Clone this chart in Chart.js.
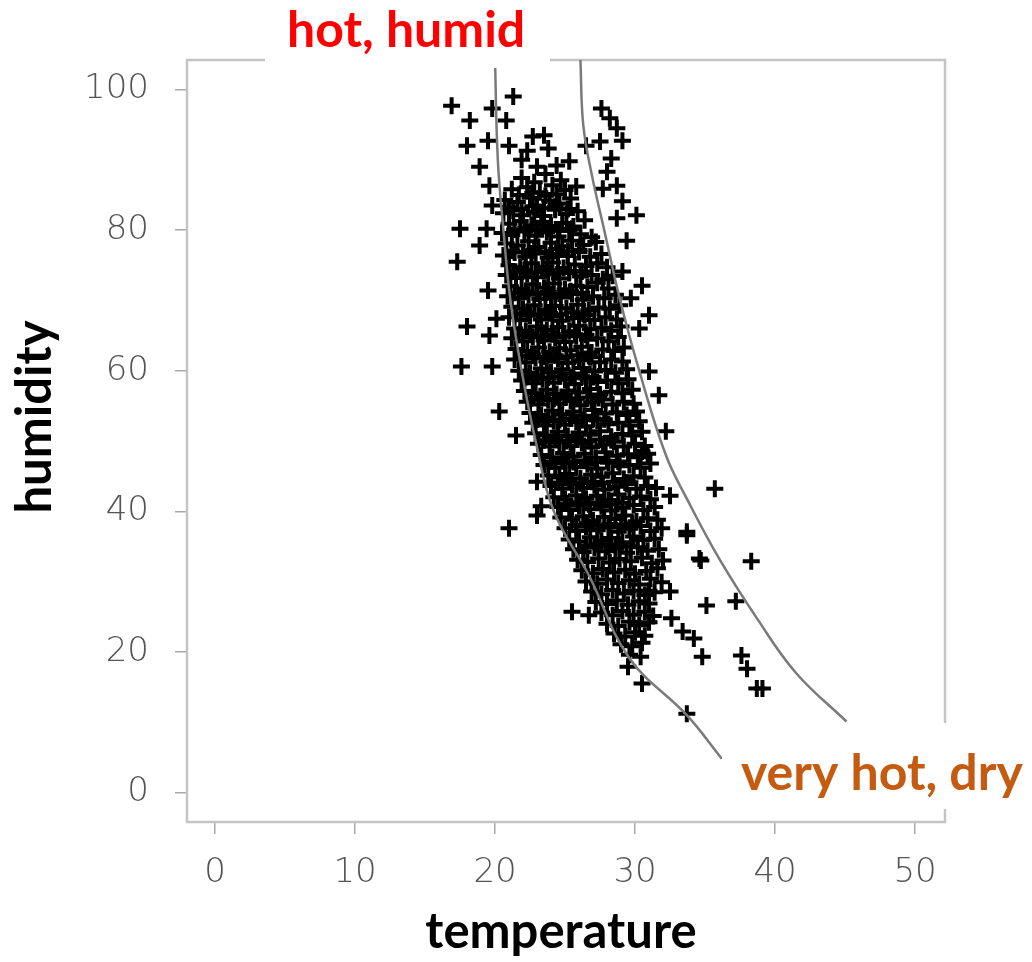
<!DOCTYPE html>
<html>
<head>
<meta charset="utf-8">
<script src="https://cdn.jsdelivr.net/npm/chart.js@4.4.1/dist/chart.umd.min.js"></script>
<style>
  body { margin: 0; background: #fff; }
  #wrap { width: 1032px; height: 962px; }
</style>
</head>
<body>
<div id="wrap"><canvas id="heatChart" width="1032" height="962"></canvas></div>
<script>
// axis ticks
var xTicks = [0, 10, 20, 30, 40, 50];
var yTicks = [0, 20, 40, 60, 80, 100];

// main cloud of readings [temperature, humidity]
var cloud = [
  [21.9,87.4],[22.8,86.8],[23.6,88.0],[24.7,87.1],
  [21.2,85.8],[22.3,86.1],[23.2,85.4],[24.1,86.4],[25.0,85.7],[25.8,86.2],
  [20.7,84.3],[21.6,84.0],[22.5,84.6],[23.0,83.5],[23.9,84.2],[24.6,83.8],[25.4,84.5],
  [20.6,82.4],[21.3,82.8],[22.0,82.1],[22.8,82.6],[23.5,82.0],[24.3,82.9],[25.1,82.3],[25.9,82.7],
  [21.0,80.9],[21.8,81.3],[22.6,80.7],[23.3,81.2],[24.0,80.6],[24.8,81.0],[25.6,80.5],[26.4,81.4],
  [20.5,79.6],[21.2,79.3],[22.1,79.8],[22.9,79.2],[23.7,79.7],[24.5,79.1],[25.3,79.9],[26.1,79.4],[26.9,79.0],
  [20.8,78.1],[21.6,77.8],[22.4,78.4],[23.1,77.6],[24.0,78.2],[24.8,77.7],[25.5,78.5],[26.3,77.9],[27.2,78.3],
  [20.6,76.4],[21.4,76.8],[22.2,76.2],[22.9,76.7],[23.8,76.1],[24.5,76.6],[25.2,76.3],[26.0,76.9],[26.8,76.2],[27.6,76.6],
  [21.0,75.0],[21.8,74.7],[22.6,75.3],[23.4,74.8],[24.1,75.4],[24.9,74.6],[25.7,75.1],[26.5,74.9],[27.3,75.3],[28.0,74.7],
  [20.8,73.6],[21.5,73.2],[22.3,73.8],[23.0,73.3],[23.8,73.7],[24.6,73.1],[25.3,73.9],[26.1,73.4],[26.9,73.6],[27.7,73.0],[28.4,73.5],
  [21.1,72.0],[21.9,71.7],[22.7,72.3],[23.5,71.8],[24.2,72.4],[25.0,71.6],[25.8,72.1],[26.6,71.9],[27.3,72.5],[28.1,71.7],
  [20.9,70.6],[21.7,70.3],[22.4,70.8],[23.2,70.2],[24.0,70.7],[24.7,70.4],[25.5,70.9],[26.3,70.1],[27.0,70.6],[27.8,70.3],[28.6,70.8],
  [21.2,69.1],[22.0,68.8],[22.8,69.3],[23.6,68.7],[24.3,69.2],[25.1,68.9],[25.9,69.4],[26.7,68.6],[27.4,69.0],[28.2,68.8],[28.9,69.3],
  [21.0,67.6],[21.8,67.2],[22.5,67.8],[23.3,67.3],[24.1,67.7],[24.8,67.1],[25.6,67.5],[26.4,67.9],[27.1,67.2],[27.9,67.6],[28.7,67.3],
  [21.4,66.0],[22.2,65.7],[23.0,66.3],[23.7,65.8],[24.5,66.2],[25.3,65.6],[26.0,66.4],[26.8,65.9],[27.6,66.1],[28.3,65.7],[29.0,66.3],
  [21.2,64.6],[22.0,64.2],[22.7,64.8],[23.5,64.3],[24.3,64.7],[25.0,64.1],[25.8,64.9],[26.6,64.4],[27.3,64.6],[28.1,64.2],[28.8,64.8],
  [21.5,63.1],[22.3,62.8],[23.1,63.3],[23.9,62.7],[24.6,63.2],[25.4,62.9],[26.2,63.4],[26.9,62.6],[27.7,63.0],[28.5,62.8],[29.2,63.3],
  [21.4,61.6],[22.2,61.2],[22.9,61.8],[23.7,61.3],[24.5,61.7],[25.2,61.1],[26.0,61.5],[26.8,61.9],[27.5,61.2],[28.3,61.6],[29.1,61.3],
  [21.7,60.0],[22.5,59.7],[23.3,60.3],[24.0,59.8],[24.8,60.2],[25.6,59.6],[26.3,60.4],[27.1,59.9],[27.9,60.1],[28.6,59.7],[29.4,60.2],
  [21.9,58.6],[22.7,58.2],[23.4,58.8],[24.2,58.3],[25.0,58.7],[25.7,58.1],[26.5,58.9],[27.3,58.4],[28.0,58.6],[28.8,58.2],[29.5,58.8],
  [22.1,57.1],[22.9,56.8],[23.7,57.3],[24.4,56.7],[25.2,57.2],[26.0,56.9],[26.8,57.4],[27.5,56.6],[28.3,57.0],[29.1,56.8],[29.8,57.3],
  [22.3,55.6],[23.1,55.2],[23.8,55.8],[24.6,55.3],[25.4,55.7],[26.1,55.1],[26.9,55.5],[27.7,55.9],[28.4,55.2],[29.2,55.6],[29.9,55.3],
  [22.5,54.0],[23.3,53.7],[24.1,54.3],[24.8,53.8],[25.6,54.2],[26.4,53.6],[27.1,54.4],[27.9,53.9],[28.7,54.1],[29.4,53.7],[30.1,54.2],
  [22.7,52.6],[23.5,52.2],[24.2,52.8],[25.0,52.3],[25.8,52.7],[26.5,52.1],[27.3,52.9],[28.1,52.4],[28.8,52.6],[29.6,52.2],[30.3,52.8],
  [22.9,51.1],[23.7,50.8],[24.5,51.3],[25.2,50.7],[26.0,51.2],[26.8,50.9],[27.5,51.4],[28.3,50.6],[29.1,51.0],[29.8,50.8],[30.5,51.3],
  [23.1,49.6],[23.9,49.2],[24.6,49.8],[25.4,49.3],[26.2,49.7],[26.9,49.1],[27.7,49.5],[28.5,49.9],[29.2,49.2],[30.0,49.6],[30.7,49.3],
  [23.3,48.0],[24.1,47.7],[24.9,48.3],[25.6,47.8],[26.4,48.2],[27.2,47.6],[27.9,48.4],[28.7,47.9],[29.5,48.1],[30.2,47.7],[30.9,48.2],
  [23.5,46.6],[24.3,46.2],[25.0,46.8],[25.8,46.3],[26.6,46.7],[27.3,46.1],[28.1,46.9],[28.9,46.4],[29.6,46.6],[30.4,46.2],[31.1,46.8],
  [23.8,45.1],[24.6,44.8],[25.3,45.3],[26.1,44.7],[26.9,45.2],[27.6,44.9],[28.4,45.4],[29.2,44.6],[29.9,45.0],[30.7,44.8],
  [24.0,43.6],[24.8,43.2],[25.5,43.8],[26.3,43.3],[27.1,43.7],[27.8,43.1],[28.6,43.5],[29.4,43.9],[30.1,43.2],[30.9,43.6],[31.5,43.3],
  [24.2,42.0],[25.0,41.7],[25.8,42.3],[26.5,41.8],[27.3,42.2],[28.1,41.6],[28.8,42.4],[29.6,41.9],[30.4,42.1],[31.1,41.7],
  [24.5,40.6],[25.3,40.2],[26.0,40.8],[26.8,40.3],[27.6,40.7],[28.3,40.1],[29.1,40.5],[29.9,40.9],[30.6,40.2],[31.4,40.6],
  [24.7,39.1],[25.5,38.8],[26.3,39.3],[27.0,38.7],[27.8,39.2],[28.6,38.9],[29.3,39.4],[30.1,38.6],[30.9,39.0],[31.6,38.8],
  [25.0,37.6],[25.8,37.2],[26.5,37.8],[27.3,37.3],[28.1,37.7],[28.8,37.1],[29.6,37.5],[30.4,37.9],[31.1,37.2],[31.9,37.6],
  [25.3,36.0],[26.0,35.7],[26.8,36.3],[27.6,35.8],[28.3,36.2],[29.1,35.6],[29.9,36.4],[30.6,35.9],[31.4,36.1],
  [25.6,34.6],[26.3,34.2],[27.1,34.8],[27.9,34.3],[28.6,34.7],[29.4,34.1],[30.2,34.9],[30.9,34.4],[31.7,34.6],
  [25.9,33.1],[26.6,32.8],[27.4,33.3],[28.2,32.7],[28.9,33.2],[29.7,32.9],[30.5,33.4],[31.2,32.6],[32.0,33.0],
  [26.2,31.6],[27.0,31.2],[27.7,31.8],[28.5,31.3],[29.3,31.7],[30.0,31.1],[30.8,31.5],[31.6,31.9],
  [26.5,30.0],[27.3,29.7],[28.0,30.3],[28.8,29.8],[29.6,30.2],[30.3,29.6],[31.1,30.4],[31.9,29.9],
  [26.9,28.6],[27.6,28.2],[28.4,28.8],[29.2,28.3],[29.9,28.7],[30.7,28.1],[31.4,28.5],
  [27.2,27.1],[28.0,26.8],[28.7,27.3],[29.5,26.7],[30.3,27.2],[31.0,26.9],
  [27.6,25.6],[28.4,25.2],[29.1,25.8],[29.9,25.3],[30.7,25.7],[31.3,25.1],
  [28.0,24.0],[28.8,23.7],[29.6,24.3],[30.3,23.8],[31.0,24.2],
  [28.5,22.6],[29.3,22.2],[30.0,22.8],[30.7,22.3],
  [29.0,21.1],[29.8,20.8],[30.5,21.3],
  [29.6,19.6],[30.4,19.3]
];

// extra readings in the darkest part of the cloud
var core = [
  [21.7,85.0],[22.7,85.3],[23.6,84.9],[24.4,85.1],
  [21.0,83.2],[21.9,83.0],[22.7,83.4],[23.5,83.1],[24.3,83.3],[25.2,83.0],
  [21.4,80.1],[22.2,80.3],[23.0,80.0],[23.8,80.2],[24.6,79.9],[25.5,80.2],
  [21.2,77.1],[22.0,76.9],[22.8,77.2],[23.6,76.9],[24.4,77.3],[25.2,77.0],[26.0,77.2],
  [21.3,74.1],[22.1,74.3],[22.9,74.0],[23.7,74.3],[24.5,74.0],[25.3,74.2],[26.2,74.1],
  [21.4,71.1],[22.2,71.3],[23.0,71.0],[23.8,71.2],[24.6,71.0],[25.4,71.3],[26.2,71.1],
  [21.5,68.1],[22.3,68.3],[23.1,68.0],[23.9,68.2],[24.7,68.0],[25.5,68.3],[26.3,68.1],
  [21.7,65.1],[22.5,65.3],[23.3,65.0],[24.1,65.2],[24.9,65.0],[25.7,65.2],[26.5,65.1],
  [21.9,62.1],[22.7,62.3],[23.5,62.0],[24.3,62.2],[25.1,62.0],[25.9,62.2],[26.7,62.1],
  [22.2,59.1],[23.0,59.3],[23.8,59.0],[24.6,59.2],[25.4,59.0],[26.2,59.2],[27.0,59.1],
  [22.6,56.1],[23.4,56.3],[24.2,56.0],[25.0,56.2],[25.8,56.0],[26.6,56.2],[27.4,56.1],
  [23.0,53.1],[23.8,53.3],[24.6,53.0],[25.4,53.2],[26.2,53.0],[27.0,53.2],[27.8,53.1],
  [23.5,50.1],[24.3,50.3],[25.1,50.0],[25.9,50.2],[26.7,50.0],[27.5,50.2],[28.3,50.1],
  [24.0,47.1],[24.8,47.3],[25.6,47.0],[26.4,47.2],[27.2,47.0],[28.0,47.2],[28.8,47.1],
  [24.5,44.1],[25.3,44.3],[26.1,44.0],[26.9,44.2],[27.7,44.0],[28.5,44.2],[29.3,44.1],
  [25.1,41.1],[25.9,41.3],[26.7,41.0],[27.5,41.2],[28.3,41.0],[29.1,41.2],
  [25.8,38.1],[26.6,38.3],[27.4,38.0],[28.2,38.2],[29.0,38.0],[29.8,38.2],
  [26.5,35.1],[27.3,35.3],[28.1,35.0],[28.9,35.2],[29.7,35.0]
];

// scattered readings around the cloud
var outliers = [
  [16.9,97.7],[18.2,95.6],[18.0,92.0],[19.8,97.3],[21.3,99.0],[20.8,95.6],[19.5,92.7],[21.0,92.0],
  [18.9,89.0],[22.7,93.3],[23.5,93.5],[22.3,91.3],[23.8,91.6],[25.3,89.8],[24.4,89.2],[21.9,90.0],
  [23.0,89.0],[19.6,86.3],[19.8,83.5],[19.4,80.2],[18.9,77.8],
  [27.6,97.3],[28.2,95.9],[28.7,94.5],[29.1,92.7],[26.5,92.0],[27.5,92.6],[28.3,90.2],[28.0,88.3],
  [28.7,86.3],[27.7,85.9],[30.1,82.1],[29.1,84.1],[28.7,81.7],[29.4,78.5],[29.7,70.3],
  [17.3,75.5],[17.5,80.2],[19.5,71.4],[18.0,66.3],[20.1,67.4],[19.6,65.0],[19.8,60.6],[20.3,54.2],
  [17.6,60.6],[21.5,50.8],[23.0,44.2],[23.3,40.7],[23.0,39.4],[21.0,37.6],
  [29.1,74.1],[30.5,72.1],[31.0,67.9],[30.3,66.0],[31.0,59.9],[31.7,56.5],[32.2,51.4],[30.5,48.5],
  [32.5,42.2],[33.7,37.1],[34.6,33.3],[35.7,43.2],[38.3,32.9],[34.7,33.0],[33.7,36.6],[32.5,28.6],
  [32.6,24.8],[33.4,22.9],[34.2,21.9],[34.8,19.3],[35.1,26.6],[37.2,27.2],[37.6,19.5],[38.0,17.6],
  [38.7,14.8],[39.1,14.8],[33.7,11.2],[29.5,17.9],[30.5,15.5],[25.5,25.7],[26.7,25.2],[31.0,28.7]
];

// the two boundary curves
var lowerCurve = [
  [20.0,104.2],[20.2,90],[20.6,80],[21.1,70],[21.9,60],[22.9,50],[24.2,40],[26.7,30.9],
  [29.6,19.1],[33.7,11.0],[36.2,4.8]
];
var upperCurve = [
  [26.1,104.2],[26.3,95],[26.9,88],[27.8,80],[28.9,70.3],[30.3,60],[32.2,48],[33.7,41.8],
  [36.0,33.3],[38.7,24.8],[41.5,17],[45.1,10.1]
];

function toXY(list) {
  var out = [];
  for (var i in list) {
    out.push({x: list[i][0], y: list[i][1]});
  }
  return out;
}

var framePlugin = {
  id: 'frame',
  beforeDatasetsDraw: function(chart) {
    var a = chart.chartArea, ctx = chart.ctx;
    ctx.save();
    ctx.strokeStyle = '#c4c4c4';
    ctx.lineWidth = 2.5;
    ctx.strokeRect(a.left, a.top, a.right - a.left, a.bottom - a.top);
    ctx.restore();
  },
  afterDraw: function(chart) {
    var ctx = chart.ctx;
    ctx.save();
    // label boxes
    ctx.fillStyle = '#ffffff';
    ctx.fillRect(265, 0, 285, 68);
    ctx.fillRect(722, 723, 310, 86);
    ctx.font = 'bold 50px Lato';
    ctx.textBaseline = 'alphabetic';
    ctx.textAlign = 'left';
    ctx.fillStyle = '#ff0000';
    ctx.fillText('hot, humid', 287, 47);
    ctx.fillStyle = '#c55a11';
    ctx.fillText('very hot, dry', 741, 790);
    // axis titles
    ctx.font = 'bold 49px Lato';
    ctx.fillStyle = '#000000';
    ctx.textAlign = 'center';
    ctx.fillText('temperature', 561, 948);
    ctx.translate(51, 417);
    ctx.rotate(-Math.PI / 2);
    ctx.fillText('humidity', 0, 0);
    ctx.restore();
  }
};

function init() {
  var ctx = document.getElementById('heatChart');
  new Chart(ctx, {
    type: 'scatter',
    data: {
      datasets: [
        {
          label: 'lower',
          type: 'line',
          data: toXY(lowerCurve),
          borderColor: '#7a7a7a',
          borderWidth: 2.5,
          pointRadius: 0,
          tension: 0.4,
          fill: false,
          order: 1
        },
        {
          label: 'upper',
          type: 'line',
          data: toXY(upperCurve),
          borderColor: '#7a7a7a',
          borderWidth: 2.5,
          pointRadius: 0,
          tension: 0.4,
          fill: false,
          order: 1
        },
        {
          label: 'readings',
          data: toXY(cloud.concat(core, outliers)),
          pointStyle: 'cross',
          pointRadius: 8.5,
          borderWidth: 4,
          borderColor: '#000000',
          backgroundColor: '#000000',
          order: 2
        }
      ]
    },
    options: {
      responsive: false,
      animation: false,
      layout: { padding: { top: 60, right: 87, left: 0, bottom: 0 } },
      plugins: { legend: { display: false }, tooltip: { enabled: false } },
      scales: {
        x: {
          type: 'linear',
          min: -2,
          max: 52.14,
          afterBuildTicks: function(s) { s.ticks = xTicks.map(function(v) { return {value: v}; }); },
          afterFit: function(s) { s.height = 140; },
          border: { display: false },
          grid: { drawOnChartArea: false, drawTicks: true, tickLength: 12, color: '#a8a8a8', lineWidth: 1.5 },
          ticks: { padding: 19, color: '#555555', font: { family: 'DejaVu Sans', size: 34, weight: '200' }, maxRotation: 0 }
        },
        y: {
          type: 'linear',
          min: -4.2,
          max: 104.2,
          afterBuildTicks: function(s) { s.ticks = yTicks.map(function(v) { return {value: v}; }); },
          afterFit: function(s) { s.width = 187; },
          border: { display: false },
          grid: { drawOnChartArea: false, drawTicks: true, tickLength: 12, color: '#a8a8a8', lineWidth: 1.5 },
          ticks: { padding: 26, color: '#555555', font: { family: 'DejaVu Sans', size: 34, weight: '200' } }
        }
      }
    },
    plugins: [framePlugin]
  });
}

document.addEventListener('DOMContentLoaded', init);
</script>
</body>
</html>
